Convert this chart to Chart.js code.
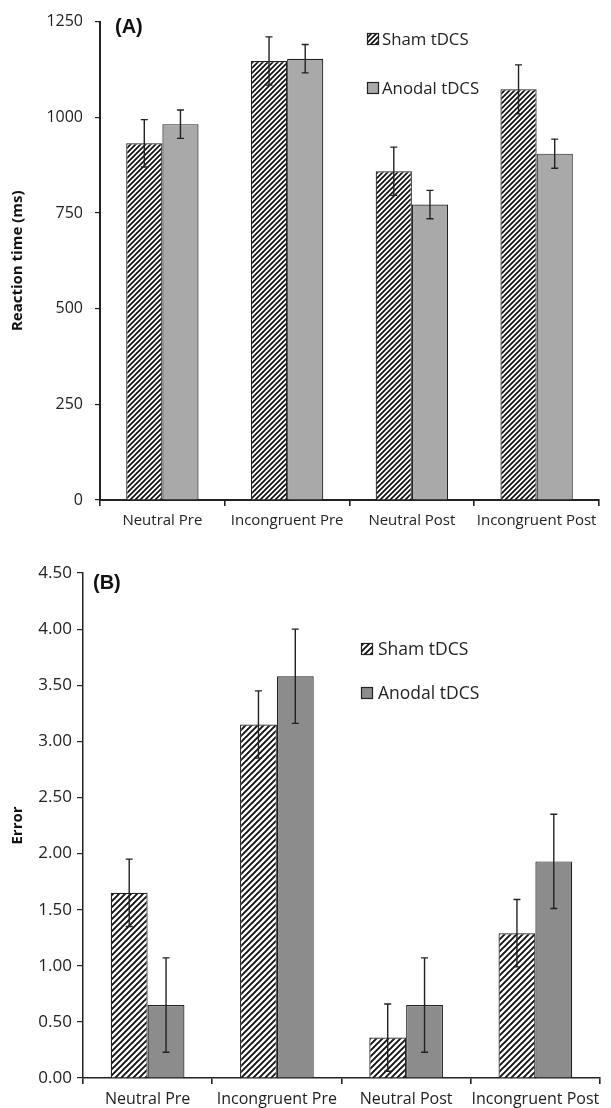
<!DOCTYPE html>
<html>
    <head>
        <meta charset="UTF-8">
        <title>tDCS reaction time and error</title>
        <script src="https://cdn.jsdelivr.net/npm/chart.js"></script>
        <style>
            body { margin: 0; background: #fff; }
            .panel { position: absolute; left: 0; width: 611px; }
            #panelA { top: 0; height: 540px; }
            #panelB { top: 545px; height: 563px; }
        </style>
    </head>
    <body>
        <div class="panel" id="panelA"><canvas id="rt_chart_canvas"></canvas></div>
        <div class="panel" id="panelB"><canvas id="error_chart_canvas"></canvas></div>

    <script>
//                                                              DATA
//---------------------------------------------------------------------------------------------------------------------------------------------------------
    const conditions = ['Neutral Pre', 'Incongruent Pre', 'Neutral Post', 'Incongruent Post'];
    const series_names = ['Sham tDCS', 'Anodal tDCS'];

    // (A) reaction time, ms
    const rt_sham = [932, 1147, 859, 1073];
    const rt_sham_err = [62, 63, 63, 64];
    const rt_anodal = [982, 1153, 772, 905];
    const rt_anodal_err = [37, 37, 37, 38];
    const rt_ticks = [0, 250, 500, 750, 1000, 1250];

    // (B) errors
    const err_sham = [1.65, 3.15, 0.36, 1.29];
    const err_sham_err = [0.30, 0.30, 0.30, 0.30];
    const err_anodal = [0.65, 3.58, 0.65, 1.93];
    const err_anodal_err = [0.42, 0.42, 0.42, 0.42];
    const error_ticks = [0, 0.5, 1, 1.5, 2, 2.5, 3, 3.5, 4, 4.5];

    const FONT = "'Open Sans', 'DejaVu Sans', sans-serif";

//                                                              HELPERS
//---------------------------------------------------------------------------------------------------------------------------------------------------------
    function hatch(size, lineWidth) {
        let c = document.createElement('canvas');
        c.width = size; c.height = size;
        let ctx = c.getContext('2d');
        ctx.fillStyle = '#fff';
        ctx.fillRect(0, 0, size, size);
        ctx.strokeStyle = '#111';
        ctx.lineWidth = lineWidth;
        ctx.beginPath();
        ctx.moveTo(-1, size + 1); ctx.lineTo(size + 1, -1);
        ctx.moveTo(-1, 1); ctx.lineTo(1, -1);
        ctx.moveTo(size - 1, size + 1); ctx.lineTo(size + 1, size - 1);
        ctx.stroke();
        return c.getContext('2d').createPattern(c, 'repeat');
    }

    // error bars drawn from dataset.errors through the y scale
    const errorBars = {
        id: 'errorBars',
        afterDatasetsDraw(chart) {
            let ctx = chart.ctx;
            let y = chart.scales.y;
            ctx.save();
            ctx.strokeStyle = '#222';
            ctx.lineWidth = 1.4;
            chart.data.datasets.forEach((ds, i) => {
                chart.getDatasetMeta(i).data.forEach((bar, j) => {
                    let v = ds.data[j], e = ds.errors[j];
                    let top = y.getPixelForValue(v + e), bot = y.getPixelForValue(v - e);
                    ctx.beginPath();
                    ctx.moveTo(bar.x, top); ctx.lineTo(bar.x, bot);
                    ctx.moveTo(bar.x - 3.5, top); ctx.lineTo(bar.x + 3.5, top);
                    ctx.moveTo(bar.x - 3.5, bot); ctx.lineTo(bar.x + 3.5, bot);
                    ctx.stroke();
                });
            });
            ctx.restore();
        }
    };

    // legend + panel label drawn inside the plot
    const innerLegend = {
        id: 'innerLegend',
        afterDraw(chart, args, opts) {
            let ctx = chart.ctx;
            ctx.save();
            ctx.font = "bold 20px 'Liberation Sans', Arial, sans-serif";
            ctx.fillStyle = '#111';
            ctx.textBaseline = 'middle';
            ctx.fillText(opts.panel, opts.panelX, opts.panelY);
            ctx.font = opts.fontSize + 'px ' + FONT;
            chart.data.datasets.forEach((ds, i) => {
                let ly = opts.y + i * opts.gap;
                ctx.fillStyle = ds.backgroundColor;
                ctx.fillRect(opts.x, ly - 6, 12, 12);
                ctx.strokeStyle = '#222';
                ctx.lineWidth = 1.2;
                ctx.strokeRect(opts.x + 0.5, ly - 5.5, 11, 11);
                ctx.fillStyle = '#222';
                ctx.fillText(ds.label, opts.textX, ly + 1);
            });
            ctx.restore();
        }
    };

    function makeChart(canvasId, cfg) {
        return new Chart(document.getElementById(canvasId), {
            type: 'bar',
            data: {
                labels: conditions,
                datasets: [
                    { label: series_names[0], data: cfg.sham, errors: cfg.shamErr, backgroundColor: cfg.hatch,
                      borderColor: '#222', borderWidth: 1.2, categoryPercentage: cfg.catPct, barPercentage: 1 },
                    { label: series_names[1], data: cfg.anodal, errors: cfg.anodalErr, backgroundColor: cfg.gray,
                      borderColor: '#222', borderWidth: 1.2, categoryPercentage: cfg.catPct, barPercentage: 1 },
                ],
            },
            options: {
                responsive: true,
                maintainAspectRatio: false,
                animation: false,
                layout: { padding: { top: cfg.padTop, right: cfg.padRight, left: 0, bottom: 0 } },
                plugins: {
                    legend: { display: false },
                    tooltip: { enabled: false },
                    innerLegend: cfg.legend,
                },
                scales: {
                    x: {
                        grid: { drawOnChartArea: false, drawTicks: true, tickLength: 6, color: '#222', lineWidth: 1.6 },
                        border: { color: '#222', width: cfg.axisWidth },
                        ticks: { color: '#222', font: { family: FONT, size: cfg.xFont }, padding: 6, maxRotation: 0, autoSkip: false },
                        afterFit: (s) => { s.height = cfg.xHeight; },
                    },
                    y: {
                        min: 0,
                        max: cfg.ticks[cfg.ticks.length - 1],
                        afterBuildTicks: (s) => { s.ticks = cfg.ticks.map(v => ({ value: v })); },
                        grid: { drawOnChartArea: false, drawTicks: true, tickLength: cfg.yTick, color: '#222', lineWidth: 1.2 },
                        border: { color: '#222', width: cfg.axisWidth },
                        ticks: { color: '#222', font: { family: FONT, size: cfg.yFont }, padding: cfg.yPad, callback: cfg.fmt },
                        title: { display: true, text: cfg.title, color: '#111', font: { family: FONT, size: 15, weight: 'bold' }, padding: { top: 9, bottom: 0 } },
                        afterFit: (s) => { s.width = cfg.yWidth; },
                    },
                },
            },
            plugins: [errorBars, innerLegend],
        });
    }

//                                                              CHARTS
//---------------------------------------------------------------------------------------------------------------------------------------------------------
    makeChart('rt_chart_canvas', {
        sham: rt_sham, shamErr: rt_sham_err, anodal: rt_anodal, anodalErr: rt_anodal_err,
        ticks: rt_ticks, fmt: (v) => v, title: 'Reaction time (ms)',
        hatch: hatch(5, 1.7), gray: '#a9a9a9', catPct: 0.58, axisWidth: 2,
        padTop: 21, padRight: 12, xHeight: 40, yWidth: 100,
        xFont: 15, yFont: 16, yPad: 12, yTick: 5,
        legend: { panel: '(A)', panelX: 115, panelY: 27, x: 367, textX: 382, y: 39, gap: 49, fontSize: 16.8 },
    });

    makeChart('error_chart_canvas', {
        sham: err_sham, shamErr: err_sham_err, anodal: err_anodal, anodalErr: err_anodal_err,
        ticks: error_ticks, fmt: (v) => v.toFixed(2), title: 'Error',
        hatch: hatch(6, 1.9), gray: '#8c8c8c', catPct: 0.57, axisWidth: 1.5,
        padTop: 28, padRight: 11, xHeight: 30, yWidth: 83,
        xFont: 16, yFont: 17, yPad: 5, yTick: 6,
        legend: { panel: '(B)', panelX: 93, panelY: 38, x: 361, textX: 378, y: 104, gap: 44, fontSize: 17.5 },
    });

//                                                              END OF SCRIPT
//---------------------------------------------------------------------------------------------------------------------------------------------------------
    </script>
    </body>
</html>
